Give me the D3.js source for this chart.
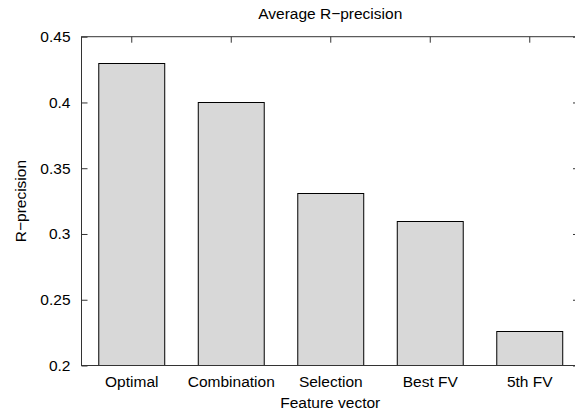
<!DOCTYPE html>
<html><head><meta charset="utf-8">
<script src="https://cdn.jsdelivr.net/npm/d3@7"></script>
<style>body{margin:0;background:#fff}svg{display:block}text{font-family:"Liberation Sans",Arial,sans-serif;fill:#000}</style>
</head><body>
<script>
const categories = ["Optimal", "Combination", "Selection", "Best FV", "5th FV"];
const values = [0.430, 0.400, 0.331, 0.310, 0.226];
const yTicks = [0.2, 0.25, 0.3, 0.35, 0.4, 0.45];
const yTickLabels = ["0.2", "0.25", "0.3", "0.35", "0.4", "0.45"];
const title = "Average R\u2212precision";
const xTitle = "Feature vector";
const yTitle = "R\u2212precision";

const W = 575, H = 413;
const m = {left: 81.5, right: 579, top: 36.7, bottom: 365.5};
const svg = d3.select("body").append("svg").attr("width", W).attr("height", H);

const x = d3.scaleBand().domain(categories).range([m.left, m.right]).paddingInner(0.337).paddingOuter(0.1685);
const xc = d3.scalePoint().domain(categories).range([m.left, m.right]).padding(0.5);
const y = d3.scaleLinear().domain([0.2, 0.45]).range([m.bottom, m.top]);
const fs = 15.5;

// bars
svg.append("g").selectAll("rect").data(values).join("rect")
  .attr("x", (d, i) => x(categories[i]) + 0.5)
  .attr("y", d => Math.round(y(d)) + 0.5)
  .attr("width", x.bandwidth())
  .attr("height", d => m.bottom - Math.round(y(d)) - 0.5)
  .attr("fill", "#d8d8d8").attr("stroke", "#000").attr("stroke-width", 1);

// y axis left
const yl = svg.append("g").attr("transform", `translate(${m.left},0)`)
  .call(d3.axisLeft(y).tickValues(yTicks).tickFormat((d, i) => yTickLabels[i]).tickSizeInner(-6).tickSizeOuter(0).tickPadding(11));
yl.select(".domain").remove();
yl.selectAll("line").attr("stroke", "#333");
yl.selectAll("text").style("font-size", fs + "px").attr("fill", "#000");

// y axis right ticks
const yr = svg.append("g").attr("transform", `translate(${m.right},0)`)
  .call(d3.axisRight(y).tickValues(yTicks).tickFormat("").tickSizeInner(-6).tickSizeOuter(0));
yr.select(".domain").remove();
yr.selectAll("line").attr("stroke", "#333");

// top ticks
const xt = svg.append("g").attr("transform", `translate(0,${m.top})`)
  .call(d3.axisTop(xc).tickFormat("").tickSizeInner(-6).tickSizeOuter(0));
xt.select(".domain").remove();
xt.selectAll("line").attr("stroke", "#333");

// bottom labels
const xb = svg.append("g").attr("transform", `translate(0,${m.bottom})`)
  .call(d3.axisBottom(xc).tickSize(0).tickPadding(10));
xb.select(".domain").remove();
xb.selectAll("text").style("font-size", fs + "px").attr("fill", "#000");

// border
svg.append("rect").attr("x", m.left).attr("y", m.top)
  .attr("width", m.right - m.left).attr("height", m.bottom - m.top)
  .attr("fill", "none").attr("stroke", "#333").attr("stroke-width", 1);

svg.append("text").attr("x", (m.left + m.right) / 2).attr("y", 19)
  .attr("text-anchor", "middle").style("font-size", fs + "px").text(title);
svg.append("text").attr("x", (m.left + m.right) / 2).attr("y", 408)
  .attr("text-anchor", "middle").style("font-size", fs + "px").text(xTitle);
svg.append("text").attr("transform", `translate(26,${(m.top + m.bottom) / 2}) rotate(-90)`)
  .attr("text-anchor", "middle").style("font-size", fs + "px").text(yTitle);
</script>
</body></html>
